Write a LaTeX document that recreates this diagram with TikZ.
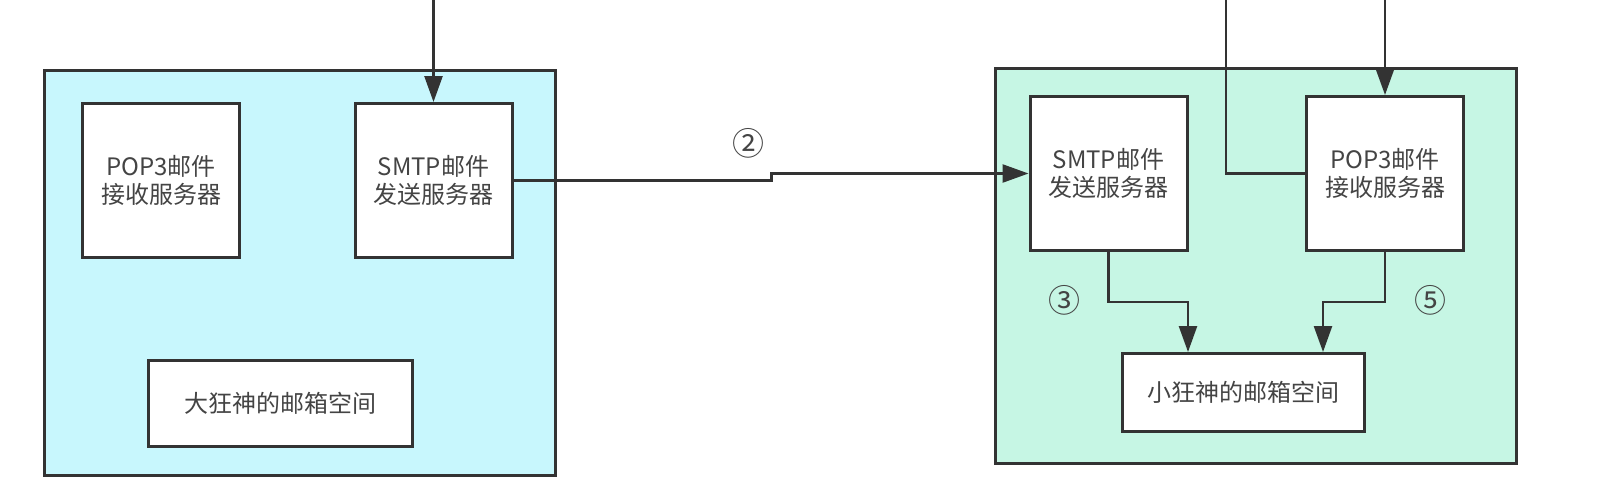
\documentclass[tikz,border=0pt]{standalone}
\usepackage{fontspec}
\setmainfont{Noto Sans CJK SC}
\usetikzlibrary{arrows.meta}
\definecolor{leftfill}{RGB}{200,247,253}
\definecolor{rightfill}{RGB}{198,246,228}
\definecolor{edge}{RGB}{51,51,51}
\definecolor{txt}{RGB}{68,68,68}
\tikzset{
  host/.style={draw=edge,line width=3pt},
  server/.style={draw=edge,fill=white,line width=3pt,minimum width=157pt,minimum height=154pt,
    align=center,text=txt,font=\fontsize{24}{28}\selectfont},
  mailbox/.style={draw=edge,fill=white,line width=3pt,text=txt,font=\fontsize{24}{28}\selectfont},
  step label/.style={text=txt,font=\fontsize{32}{34}\selectfont},
  link/.style={draw=edge,line width=2.5pt}
}
\begin{document}
\begin{tikzpicture}[x=1pt,y=-1pt,>={Triangle[length=26pt,width=18pt]}]%[line cap=round,line join=round]
\useasboundingbox (0,0) rectangle (1615,488);
\node [host,fill=leftfill,minimum width=511pt,minimum height=405pt] (hostL) at (300,273) {};
\node [host,fill=rightfill,minimum width=521pt,minimum height=395pt] (hostR) at (1256,266) {};
\node [server] (popL) at (161,180.5) {POP3邮件\\接收服务器};
\node [server] (smtpL) at (433.5,180.5) {SMTP邮件\\发送服务器};
\node [mailbox,minimum width=264pt,minimum height=86pt] (mboxL) at (280.5,403.5) {大狂神的邮箱空间};
\node [server] (smtpR) at (1108.5,173.5) {SMTP邮件\\发送服务器};
\node [server] (popR) at (1385,173.5) {POP3邮件\\接收服务器};
\node [mailbox,minimum width=242pt,minimum height=78pt] (mboxR) at (1243.5,392.5) {小狂神的邮箱空间};
\coordinate (inL) at (433.5,0);
\coordinate (inR) at (1385,0);
\coordinate (outR) at (1226,0);
\draw [link,->] (inL) -- (smtpL.north);
\draw [link,->] (smtpL.east) -- ++(258,0) |- (smtpR.west);
\draw [link] (outR) |- (popR.west);
\draw [link,->] (inR) -- (popR.north);
\draw [link,->] (smtpR.south) -- ++(0,50) -| ([xshift=-55.5pt]mboxR.north);
\draw [link,->] (popR.south) -- ++(0,50) -| ([xshift=79.5pt]mboxR.north);
\node [step label] (n2) at (748,143) {②};
\node [step label] (n3) at (1064,300) {③};
\node [step label] (n5) at (1430,300) {⑤};
\end{tikzpicture}
\end{document}
